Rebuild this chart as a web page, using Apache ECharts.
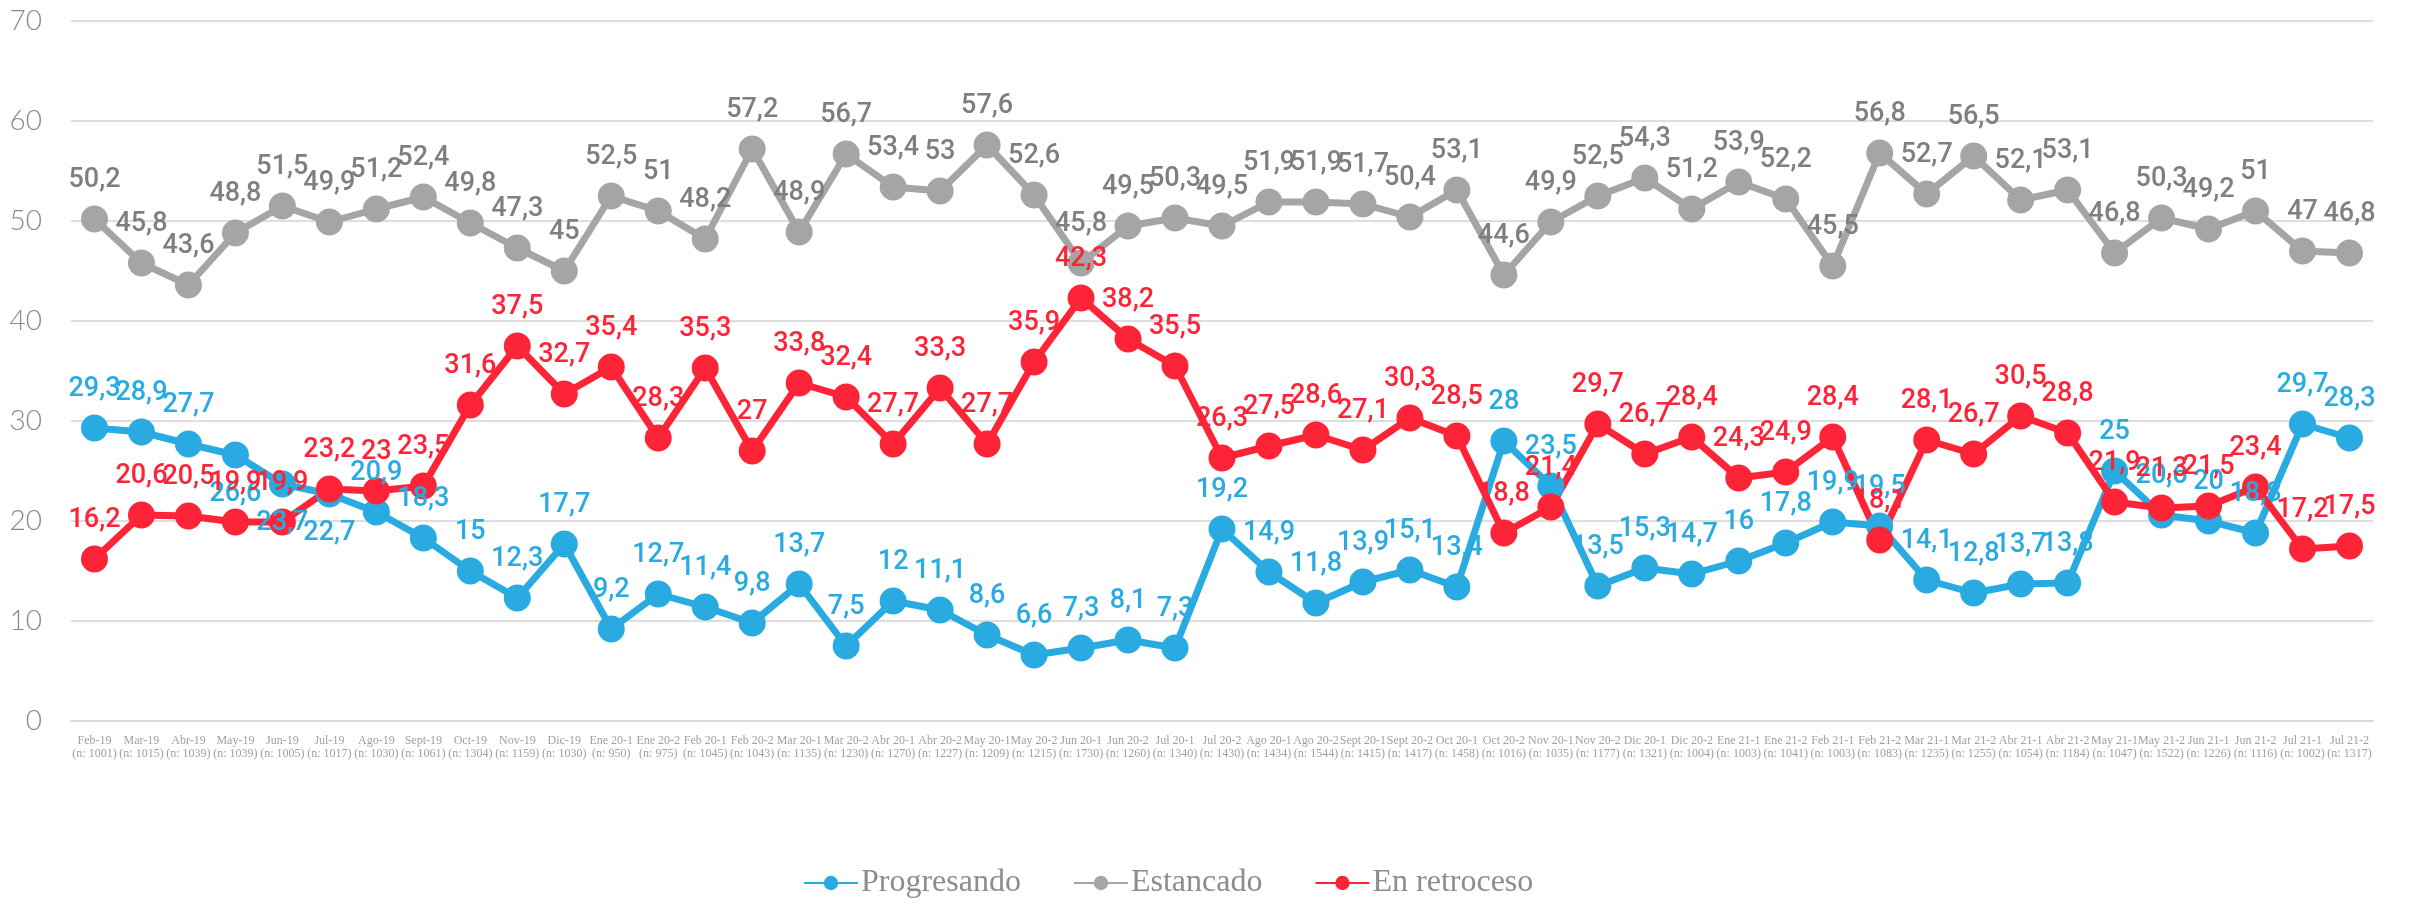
<!DOCTYPE html>
<html>
<head>
<meta charset="utf-8">
<script src="https://cdn.jsdelivr.net/npm/echarts@6/dist/echarts.min.js"></script>
<style>
html,body{margin:0;padding:0;background:#fff;}
#chart{width:2410px;height:904px;}
</style>
</head>
<body>
<div id="chart"></div>
<script>
const categories = [
  'Feb-19','Mar-19','Abr-19','May-19','Jun-19','Jul-19','Ago-19','Sept-19','Oct-19','Nov-19','Dic-19',
  'Ene 20-1','Ene 20-2','Feb 20-1','Feb 20-2','Mar 20-1','Mar 20-2','Abr 20-1','Abr 20-2','May 20-1','May 20-2',
  'Jun 20-1','Jun 20-2','Jul 20-1','Jul 20-2','Ago 20-1','Ago 20-2','Sept 20-1','Sept 20-2','Oct 20-1','Oct 20-2',
  'Nov 20-1','Nov 20-2','Dic 20-1','Dic 20-2','Ene 21-1','Ene 21-2','Feb 21-1','Feb 21-2','Mar 21-1','Mar 21-2',
  'Abr 21-1','Abr 21-2','May 21-1','May 21-2','Jun 21-1','Jun 21-2','Jul 21-1','Jul 21-2'
];
const sampleSizes = [
  1001,1015,1039,1039,1005,1017,1030,1061,1304,1159,1030,
  950,975,1045,1043,1135,1230,1270,1227,1209,1215,
  1730,1260,1340,1430,1434,1544,1415,1417,1458,1016,
  1035,1177,1321,1004,1003,1041,1003,1083,1235,1255,
  1054,1184,1047,1522,1226,1116,1002,1317
];
const progresando = [
  29.3,28.9,27.7,26.6,23.7,22.7,20.9,18.3,15,12.3,17.7,
  9.2,12.7,11.4,9.8,13.7,7.5,12,11.1,8.6,6.6,
  7.3,8.1,7.3,19.2,14.9,11.8,13.9,15.1,13.4,28,
  23.5,13.5,15.3,14.7,16,17.8,19.9,19.5,14.1,12.8,
  13.7,13.8,25,20.6,20,18.8,29.7,28.3
];
const estancado = [
  50.2,45.8,43.6,48.8,51.5,49.9,51.2,52.4,49.8,47.3,45,
  52.5,51,48.2,57.2,48.9,56.7,53.4,53,57.6,52.6,
  45.8,49.5,50.3,49.5,51.9,51.9,51.7,50.4,53.1,44.6,
  49.9,52.5,54.3,51.2,53.9,52.2,45.5,56.8,52.7,56.5,
  52.1,53.1,46.8,50.3,49.2,51,47,46.8
];
const enRetroceso = [
  16.2,20.6,20.5,19.9,19.9,23.2,23,23.5,31.6,37.5,32.7,
  35.4,28.3,35.3,27,33.8,32.4,27.7,33.3,27.7,35.9,
  42.3,38.2,35.5,26.3,27.5,28.6,27.1,30.3,28.5,18.8,
  21.4,29.7,26.7,28.4,24.3,24.9,28.4,18.1,28.1,26.7,
  30.5,28.8,21.9,21.3,21.5,23.4,17.2,17.5
];
const yTicks = [0,10,20,30,40,50,60,70];
const seriesNames = ['Progresando','Estancado','En retroceso'];
const labelsBelowProgresando = [3,4,5];

const fmt = v => String(v).replace('.', ',');
const labelFont = 'Roboto';

function makeSeries(name, values, color, labelColor, belowIdx) {
  return {
    name: name,
    type: 'line',
    data: values.map((v, i) => belowIdx && belowIdx.indexOf(i) >= 0
      ? { value: v, label: { position: 'bottom' } }
      : v),
    symbol: 'circle',
    symbolSize: 27,
    lineStyle: { color: color, width: 7 },
    itemStyle: { color: color },
    label: {
      show: true,
      position: 'top',
      distance: 12,
      color: labelColor,
      fontFamily: labelFont,
      fontWeight: 500,
      fontSize: 27,
      formatter: p => fmt(p.value)
    },
    emphasis: { disabled: true },
    animation: false
  };
}

const chart = echarts.init(document.getElementById('chart'), null, { renderer: 'canvas' });
chart.setOption({
  backgroundColor: '#ffffff',
  animation: false,
  grid: { left: 71, right: 37, top: 21, bottom: 183, containLabel: false },
  legend: {
    data: seriesNames,
    bottom: 0,
    left: 798,
    itemWidth: 54,
    itemHeight: 18,
    itemGap: 52,
    textStyle: { fontFamily: 'Liberation Sans Narrow', fontSize: 32, color: '#8c8c8c', padding: [0,0,0,-2] }
  },
  xAxis: {
    type: 'category',
    data: categories,
    boundaryGap: true,
    axisLine: { lineStyle: { color: '#d9d9d9', width: 2 } },
    axisTick: { show: false },
    axisLabel: {
      interval: 0,
      margin: 13,
      fontSize: 12,
      lineHeight: 13,
      color: '#a0a0a0',
      fontFamily: 'Liberation Sans Narrow',
      formatter: (v, i) => v + '\n(n: ' + sampleSizes[i] + ')'
    }
  },
  yAxis: {
    type: 'value',
    min: yTicks[0],
    max: yTicks[yTicks.length - 1],
    interval: 10,
    axisLine: { show: false },
    axisTick: { show: false },
    splitLine: { lineStyle: { color: '#dedede', width: 2 } },
    axisLabel: {
      margin: 29,
      fontSize: 28,
      color: '#8a8a8a',
      fontFamily: 'Lato',
      fontWeight: 300
    }
  },
  series: [
    makeSeries(seriesNames[0], progresando, '#29abe2', '#29abe2', labelsBelowProgresando),
    makeSeries(seriesNames[1], estancado, '#a5a5a5', '#7f7f7f', null),
    makeSeries(seriesNames[2], enRetroceso, '#fe2437', '#fe2437', null)
  ]
});
</script>
</body>
</html>
